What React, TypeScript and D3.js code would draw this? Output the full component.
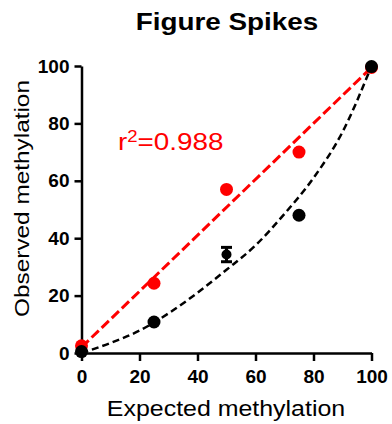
import { useEffect, useRef } from 'react';
import * as d3 from 'd3';

// expected methylation levels (x)
const expected = [0, 25, 50, 75, 100];
// red series (observed, after correction)
const redObserved = [2.5, 24.3, 57, 70, 99.5];
// black series (raw observed), with error at 50%
const blackObserved = [0.5, 10.8, 34.3, 48, 99.8];
const blackError = [0, 0, 2.5, 0, 0];

// linear fit (red) end points
const redFitX = [0, 100];
const redFitY = [2, 99.5];

// nonlinear fit (black)
const blackFitX = [0, 10, 20, 30, 40, 50, 60, 70, 80, 90, 100];
const blackFitY = [0, 3.5, 7.8, 13.8, 21, 29, 37.5, 48.5, 61, 77, 100];

const xTicks = [0, 20, 40, 60, 80, 100];
const yTicks = [0, 20, 40, 60, 80, 100];

const FONT = '"Liberation Sans", Arial, sans-serif';
const SX = 1.16; // glyphs in the reference are drawn a bit wide

export default function App() {
  const svgRef = useRef<SVGSVGElement>(null);

  useEffect(() => {
    const svg = d3.select(svgRef.current);
    svg.selectAll('*').remove();

    const x = d3.scaleLinear().domain([0, 100]).range([81.5, 371.5]);
    const y = d3.scaleLinear().domain([0, 100]).range([353, 66]);

    // Title
    svg.append('text')
      .attr('transform', `translate(227,30) scale(${SX},1)`)
      .attr('text-anchor', 'middle')
      .style('font-family', FONT)
      .style('font-weight', 'bold')
      .style('font-size', '24px')
      .text('Figure Spikes');

    // Axes
    const xAxis = svg.append('g')
      .attr('transform', `translate(0,${y(0)})`)
      .call(d3.axisBottom(x).tickValues(xTicks).tickSize(8).tickSizeOuter(0).tickPadding(9));
    const yAxis = svg.append('g')
      .attr('transform', `translate(${x(0)},0)`)
      .call(d3.axisLeft(y).tickValues(yTicks).tickSize(7).tickSizeOuter(0).tickPadding(5));

    [xAxis, yAxis].forEach(a => {
      a.select('.domain').attr('stroke', '#000').attr('stroke-width', 2.5);
      a.selectAll('.tick line').attr('stroke', '#000').attr('stroke-width', 2.5);
      a.selectAll('.tick text')
        .style('font-family', FONT)
        .style('font-weight', 'bold')
        .style('font-size', '19px')
        .attr('fill', '#000');
    });

    // Axis titles
    svg.append('text')
      .attr('transform', `translate(226,416) scale(${SX},1)`)
      .attr('text-anchor', 'middle')
      .style('font-family', FONT)
      .style('font-size', '21.5px')
      .text('Expected methylation');

    svg.append('text')
      .attr('transform', `translate(29,198.5) rotate(-90) scale(${SX},1)`)
      .attr('text-anchor', 'middle')
      .style('font-family', FONT)
      .style('font-size', '21px')
      .text('Observed methylation');

    // Fit lines
    const line = d3.line<[number, number]>()
      .x(d => x(d[0]))
      .y(d => y(d[1]));

    const blackFit = blackFitX.map((v, i) => [v, blackFitY[i]] as [number, number]);
    svg.append('path')
      .datum(blackFit)
      .attr('fill', 'none')
      .attr('stroke', '#000')
      .attr('stroke-width', 2.5)
      .attr('stroke-dasharray', '7,4')
      .attr('d', line.curve(d3.curveMonotoneX)(blackFit));

    const redFit = redFitX.map((v, i) => [v, redFitY[i]] as [number, number]);
    svg.append('path')
      .datum(redFit)
      .attr('fill', 'none')
      .attr('stroke', '#ff0000')
      .attr('stroke-width', 3)
      .attr('stroke-dasharray', '10,4')
      .attr('d', line.curve(d3.curveLinear)(redFit));

    // Red points
    svg.selectAll('.red')
      .data(expected)
      .enter().append('circle')
      .attr('cx', d => x(d))
      .attr('cy', (d, i) => y(redObserved[i]))
      .attr('r', 6.5)
      .attr('fill', '#ff0000');

    // Black error bars
    expected.forEach((d, i) => {
      const e = blackError[i];
      if (!e) return;
      const cx = x(d);
      const g = svg.append('g').attr('stroke', '#000').attr('stroke-width', 3);
      g.append('line').attr('x1', cx).attr('x2', cx)
        .attr('y1', y(blackObserved[i] + e)).attr('y2', y(blackObserved[i] - e));
      [1, -1].forEach(s => {
        g.append('line')
          .attr('x1', cx - 5.5).attr('x2', cx + 5.5)
          .attr('y1', y(blackObserved[i] + s * e)).attr('y2', y(blackObserved[i] + s * e));
      });
    });

    // Black points
    svg.selectAll('.black')
      .data(expected)
      .enter().append('circle')
      .attr('cx', d => x(d))
      .attr('cy', (d, i) => y(blackObserved[i]))
      .attr('r', (d, i) => (blackError[i] ? 5 : 6.5))
      .attr('fill', '#000');

    // r squared label
    const r2 = svg.append('text')
      .attr('transform', `translate(118,150) scale(${SX},1)`)
      .style('font-family', FONT)
      .style('font-size', '24px')
      .attr('fill', '#ff0000');
    r2.append('tspan').text('r');
    r2.append('tspan').attr('dy', -8).style('font-size', '16px').text('2');
    r2.append('tspan').attr('dy', 8).text('=0.988');
  }, []);

  return (
    <svg
      ref={svgRef}
      width={392}
      height={424}
      style={{ position: 'absolute', left: 0, top: 0, background: '#fff' }}
    />
  );
}
